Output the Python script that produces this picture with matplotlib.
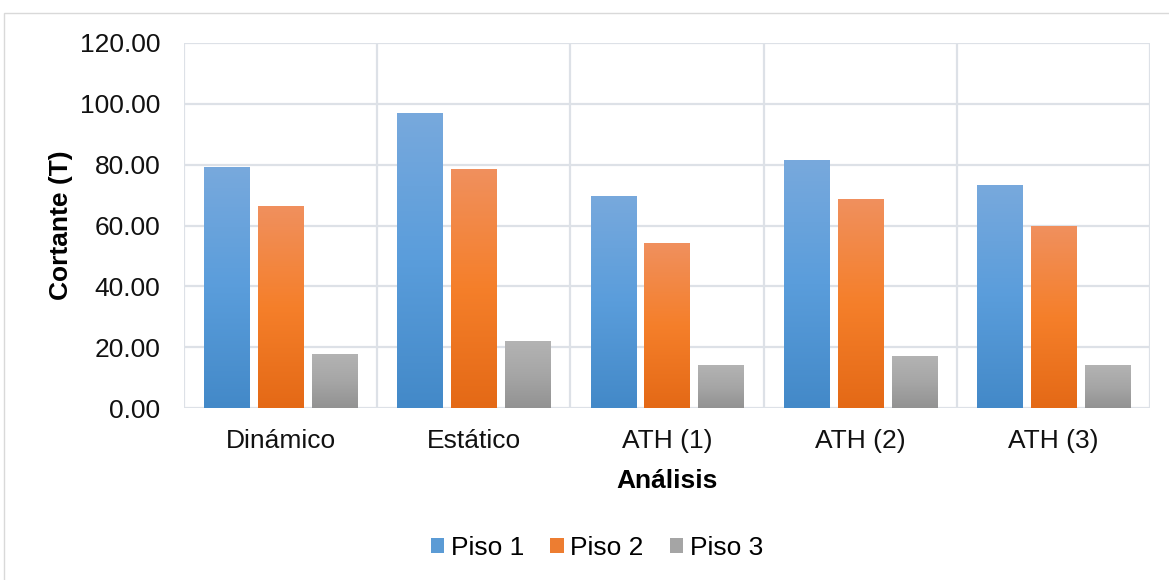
import numpy as np
import matplotlib
matplotlib.use("Agg")
import matplotlib.pyplot as plt
from matplotlib.colors import LinearSegmentedColormap
from matplotlib.patches import Rectangle, Patch

plt.rcParams['font.family'] = ['Liberation Sans', 'DejaVu Sans']

categories = ["Dinámico", "Estático", "ATH (1)", "ATH (2)", "ATH (3)"]
piso1 = [79.2, 97.0, 69.7, 81.5, 73.3]
piso2 = [66.4, 78.6, 54.2, 68.7, 59.8]
piso3 = [17.6, 21.9, 14.0, 17.0, 14.0]
series_names = ["Piso 1", "Piso 2", "Piso 3"]
y_ticks = [0, 20, 40, 60, 80, 100, 120]

# gradient stops (top -> bottom) for each series
gradients = [
    ["#78a9dd", "#5a9ddb", "#4389c8"],
    ["#f0905e", "#f57f2a", "#e46916"],
    ["#b3b3b3", "#a6a6a6", "#929292"],
]
legend_colors = ["#5b9bd5", "#ed7d31", "#a5a5a5"]

FS = 19
fig = plt.figure(figsize=(11.69, 5.80), dpi=100)
# outer chart frame
fig.patches.append(Rectangle((4 / 1169, -0.1), 1.2, (580 - 13) / 580 + 0.1,
                             transform=fig.transFigure, fill=False,
                             edgecolor="#d9d9d9", linewidth=1.0))

ax = fig.add_axes([184 / 1169, 1 - 408 / 580, (1150 - 184) / 1169, (408 - 43) / 580])

x = np.arange(len(categories))
bw = 0.233
step = 0.279
all_series = [piso1, piso2, piso3]
for i, vals in enumerate(all_series):
    bars = ax.bar(x + (i - 1) * step, vals, width=bw, facecolor="none",
                  edgecolor="none", zorder=3)
    cmap = LinearSegmentedColormap.from_list(f"g{i}", gradients[i][::-1])
    grad = np.linspace(0, 1, 256).reshape(-1, 1)
    for b in bars:
        x0, y0 = b.get_x(), b.get_y()
        w, h = b.get_width(), b.get_height()
        im = ax.imshow(grad, cmap=cmap, origin="lower", aspect="auto",
                       extent=[x0, x0 + w, y0, y0 + h], zorder=3)
        im.set_clip_path(b)

ax.set_xlim(-0.5, len(categories) - 0.5)
ax.set_ylim(0, 120)
ax.set_yticks(y_ticks)
ax.set_yticklabels([f"{v:.2f}" for v in y_ticks], fontsize=FS, color="#111111")
ax.set_xticks(x)
ax.set_xticklabels(categories, fontsize=FS, color="#111111")
ax.tick_params(axis="y", length=0, pad=17)
ax.tick_params(axis="x", length=0, pad=15)

grid_c = "#dde1e7"
for v in y_ticks:
    ax.axhline(v, color=grid_c, linewidth=1.6, zorder=1)
for b in np.arange(-0.5, len(categories) + 0.5, 1):
    ax.axvline(b, color=grid_c, linewidth=1.6, zorder=1)
for s in ax.spines.values():
    s.set_visible(False)

ax.set_ylabel("Cortante (T)", fontsize=FS, fontweight="bold", labelpad=5)
ax.set_xlabel("Análisis", fontsize=FS, fontweight="bold", labelpad=12)

handles = [Patch(facecolor=c, edgecolor="none") for c in legend_colors]
fig.legend(handles, series_names, loc="center", bbox_to_anchor=(597 / 1169, 1 - 548 / 580),
           ncol=3, frameon=False, fontsize=FS, handlelength=0.5, handleheight=0.5,
           handletextpad=0.25, columnspacing=1.0)

fig.savefig("out.png", dpi=100)
